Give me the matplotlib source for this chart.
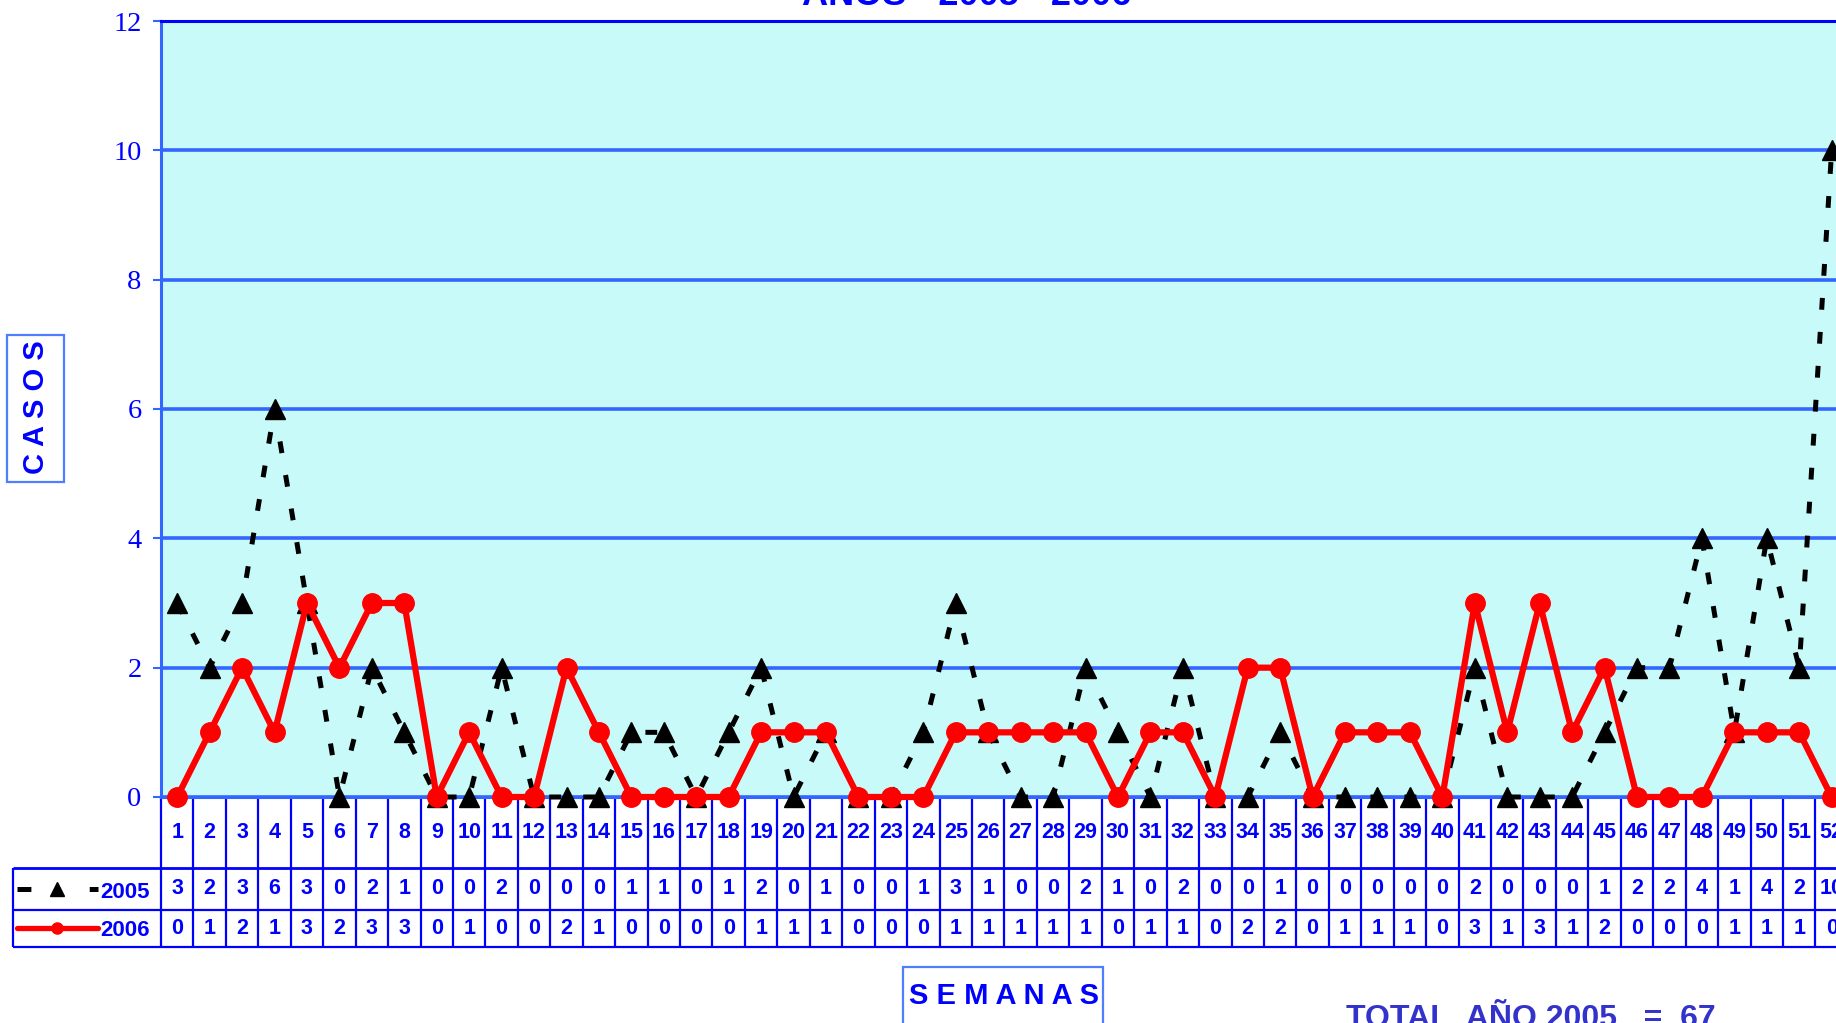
import matplotlib
matplotlib.use("Agg")
from matplotlib import pyplot as plt
from matplotlib.patches import Rectangle

plt.rcParams["lines.scale_dashes"] = False
plt.rcParams["font.family"] = ["Liberation Sans", "DejaVu Sans"]

W, H = 1836, 1023

semanas = list(range(1, 53))
casos_2005 = [3, 2, 3, 6, 3, 0, 2, 1, 0, 0, 2, 0, 0, 0, 1, 1, 0, 1, 2, 0, 1, 0, 0, 1, 3, 1,
              0, 0, 2, 1, 0, 2, 0, 0, 1, 0, 0, 0, 0, 0, 2, 0, 0, 0, 1, 2, 2, 4, 1, 4, 2, 10]
casos_2006 = [0, 1, 2, 1, 3, 2, 3, 3, 0, 1, 0, 0, 2, 1, 0, 0, 0, 0, 1, 1, 1, 0, 0, 0, 1, 1,
              1, 1, 1, 0, 1, 1, 0, 2, 2, 0, 1, 1, 1, 0, 3, 1, 3, 1, 2, 0, 0, 0, 1, 1, 1, 0]
series = ["2005", "2006"]
yticks = [0, 2, 4, 6, 8, 10, 12]
titulo = "AÑOS - 2005 - 2006"
total_txt = "TOTAL  AÑO 2005   =  67"

BLUE = "#0000ff"
GRID = "#3366ff"
BOX = "#4d7fff"
BG = "#c8fafa"


def px(x0, y0, w, h):
    # pixel box (top-left origin) -> figure fraction rect
    return [x0 / W, 1 - (y0 + h) / H, w / W, h / H]


fig = plt.figure(figsize=(W / 100, H / 100), dpi=100)

col_w = 32.44
ax_left = 161
y0_px, y12_px = 797, 21

# main plot
ax = fig.add_axes(px(ax_left, y12_px, 52 * col_w, y0_px - y12_px))
ax.set_zorder(3)
ax.set_facecolor(BG)
ax.set_xlim(0.5, 52.5)
ax.set_ylim(0, 12)
ax.set_xticks([])
ax.set_yticks(yticks)
ax.set_yticklabels([str(v) for v in yticks], family="Liberation Serif", fontsize=20.5, color=BLUE)
ax.tick_params(axis="y", length=6, width=1.5, color=GRID, pad=8)
for y in yticks:
    ax.axhline(y, color=GRID, lw=2.6, zorder=1)
for side in ["left", "bottom", "right"]:
    ax.spines[side].set_color(GRID)
    ax.spines[side].set_linewidth(2.2)
ax.spines["top"].set_color(BLUE)
ax.spines["top"].set_linewidth(2.2)

ax.plot(semanas, casos_2005, color="black", lw=3.6, dashes=(8.5, 16), dash_capstyle="butt",
        marker="^", ms=15, mec="black", mfc="black", clip_on=False, zorder=4)
ax.plot(semanas, casos_2006, color="#ff0000", lw=4.5, marker="o", ms=14,
        mec="#ff0000", mfc="#ff0000", clip_on=False, zorder=5)

# data table under the plot
lab_w = 149
tab = fig.add_axes(px(ax_left - lab_w, y0_px, lab_w + 52 * col_w, 150))
tab.set_zorder(1)
x_lab = 0.5 - lab_w / col_w
tab.set_xlim(x_lab, 52.5)
tab.set_ylim(150, 0)
tab.axis("off")

rows = [0, 71, 113, 150]
tab.vlines([s - 0.5 for s in semanas] + [52.5], rows[0], rows[3], color=BLUE, lw=1.6, clip_on=False)
tab.vlines([x_lab + 0.02], rows[1], rows[3], color=BLUE, lw=1.6, clip_on=False)
for r in rows[1:]:
    tab.hlines(r, x_lab + 0.02, 52.5, color=BLUE, lw=2 if r == rows[1] else 1.6, clip_on=False)

for s in semanas:
    tab.text(s, 35, str(s), ha="center", va="center", fontsize=15.5, fontweight="bold", color=BLUE)
for s, a, b in zip(semanas, casos_2005, casos_2006):
    tab.text(s, 92, str(a), ha="center", va="center", fontsize=15.5, fontweight="bold", color=BLUE)
    tab.text(s, 131, str(b), ha="center", va="center", fontsize=15.5, fontweight="bold", color=BLUE)

# legend keys inside the table
xs = [x_lab + 5 / col_w, x_lab + 45 / col_w, x_lab + 86 / col_w]
tab.plot([xs[0], xs[2]], [92, 92], color="black", lw=3.6, dashes=(10, 42), dash_capstyle="butt")
tab.plot([xs[1]], [92], marker="^", ms=10, color="black", ls="none")
tab.plot([xs[0], xs[2]], [131, 131], color="#ff0000", lw=3.8, solid_capstyle="round")
tab.plot([xs[1]], [131], marker="o", ms=8, color="#ff0000", ls="none")
for lab, yy in zip(series, [92, 131]):
    tab.text(0.5 - 11 / col_w, yy + 3, lab, ha="right", va="center", fontsize=16,
             fontweight="bold", color=BLUE)

# titles and boxed labels
fig.text(967 / W, 1 - 5 / H, titulo, ha="center", va="baseline", fontsize=26,
         fontweight="bold", color=BLUE)

fig.patches.append(Rectangle((7 / W, 1 - 482 / H), 57 / W, 147 / H, transform=fig.transFigure,
                             fill=False, ec=BOX, lw=1.6))
fig.text(36 / W, 1 - 407 / H, "C A S O S", rotation=90, ha="center", va="center",
         fontsize=21, fontweight="bold", color=BLUE)

fig.patches.append(Rectangle((903 / W, 1 - 1040 / H), 200 / W, 73 / H, transform=fig.transFigure,
                             fill=False, ec=BOX, lw=1.6))
fig.text(1004 / W, 1 - 996 / H, "S E M A N A S", ha="center", va="center",
         fontsize=21, fontweight="bold", color=BLUE)

fig.text(1346 / W, 1 - 1027 / H, total_txt, ha="left", va="baseline", fontsize=23,
         fontweight="bold", color="#3333cc")

fig.savefig("out.png", dpi=100)
